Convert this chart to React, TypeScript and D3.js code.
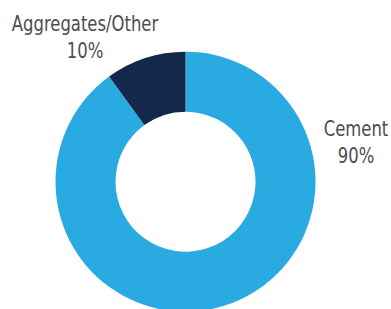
import React from 'react'
import * as d3 from 'd3'

const labels = ['Cement', 'Aggregates/Other']
const values = [90, 10]
const colors = ['#29aae1', '#13284a']

const width = 391
const height = 309
const cx = 185.5
const cy = 181.7
const outerR = 130
const innerR = 70

// label anchors (centre of first line's baseline)
const labelPos = [
  { x: 356, y: 135.7 },
  { x: 85, y: 30.7 },
]

export default function App() {
  const pie = d3.pie<number>().sort(null).value(d => d)
  const arcs = pie(values)
  const arcFn = d3.arc<d3.PieArcDatum<number>>()
    .innerRadius(innerR)
    .outerRadius(outerR)

  return (
    <svg width={width} height={height} style={{ position: 'absolute', left: 0, top: 0 }}>
      <g transform={`translate(${cx},${cy})`}>
        {arcs.map((a, i) => (
          <path key={labels[i]} d={arcFn(a) || ''} fill={colors[i]} />
        ))}
      </g>
      {labels.map((l, i) => (
        <g key={l} transform={`translate(${labelPos[i].x},${labelPos[i].y}) scale(0.87,1)`}>
          <text
            textAnchor="middle"
            fill="#4d4d4d"
            style={{ fontFamily: '"DejaVu Sans", sans-serif', fontStretch: 'condensed', fontSize: 21 }}
          >
            <tspan x={0}>{l}</tspan>
            <tspan x={0} dy={27.8}>{values[i]}%</tspan>
          </text>
        </g>
      ))}
    </svg>
  )
}
